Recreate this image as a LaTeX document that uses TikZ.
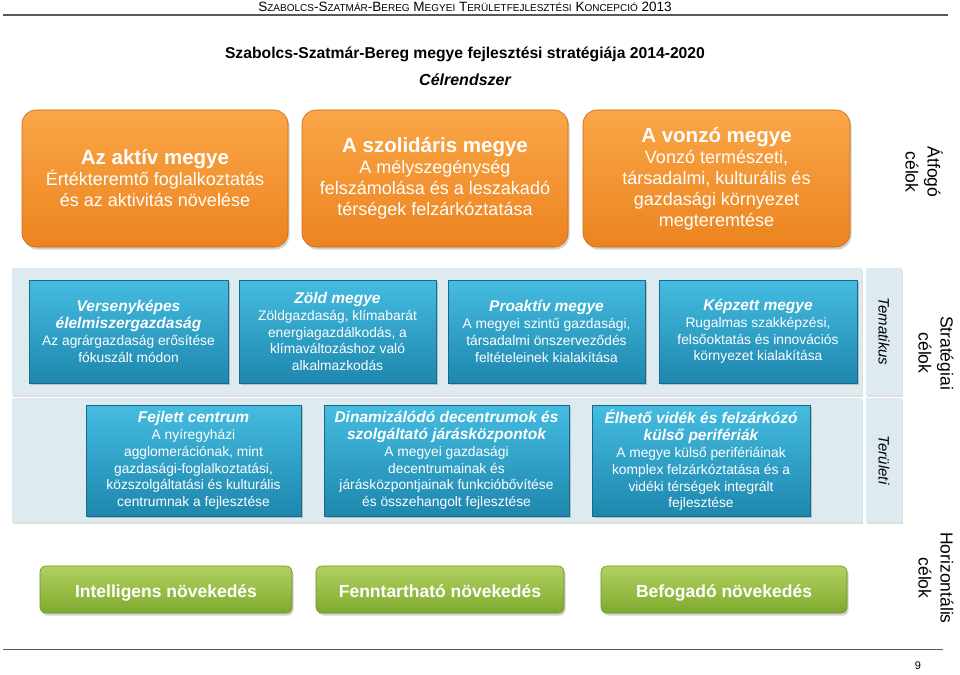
\documentclass[tikz,border=0pt]{standalone}
\usepackage{fontspec}
\setmainfont{Liberation Sans}
\usetikzlibrary{shadows}
\definecolor{orT}{HTML}{FAA647}
\definecolor{orB}{HTML}{EC8420}
\definecolor{orD}{HTML}{C96A12}
\definecolor{blT}{HTML}{45BCE0}
\definecolor{blB}{HTML}{1E87AE}
\definecolor{blD}{HTML}{17698A}
\definecolor{band}{HTML}{DDEBF1}
\definecolor{grT}{HTML}{B1D160}
\definecolor{grB}{HTML}{7FAA2E}
\definecolor{grD}{HTML}{6A8F25}
\newcommand{\sm}{\fontsize{10}{12}\selectfont}
\newcommand{\fs}[2]{\fontsize{#1}{#2}\selectfont}
\newcommand{\bt}{\fs{15.5}{17.5}\bfseries\itshape}
\newcommand{\nt}{\fs{13.8}{16.8}\mdseries\upshape}
\begin{document}
\begin{tikzpicture}[x=1pt,y=-1pt,
  orbox/.style={rounded corners=14pt, top color=orT, bottom color=orB, draw=orD, line width=0.6pt,
    drop shadow={opacity=0.35, shadow xshift=1.5pt, shadow yshift=-2.5pt},
    text=white, align=center, inner sep=0pt, font=\fs{18}{21}},
  blbox/.style={top color=blT, bottom color=blB, draw=blD, line width=0.6pt,
    drop shadow={opacity=0.4, shadow xshift=2pt, shadow yshift=-2pt},
    text=white, align=center, inner sep=0pt, font=\fs{13.8}{16.8}},
  grbox/.style={rounded corners=6pt, top color=grT, bottom color=grB, draw=grD, line width=0.6pt,
    drop shadow={opacity=0.35, shadow xshift=1.5pt, shadow yshift=-2.5pt},
    text=white, align=center, inner sep=0pt, font=\fs{17.5}{21}\bfseries,
    text height=17pt, text depth=2pt},
  bandbox/.style={fill=band, draw=none,
    drop shadow={opacity=0.25, shadow xshift=1pt, shadow yshift=-1.5pt}},
  sidelbl/.style={rotate=-90, align=center, font=\fs{17.5}{22}, inner sep=0pt},
  tablbl/.style={rotate=-90, font=\fs{15}{17}\itshape, inner sep=0pt}
]
\useasboundingbox (0,0) rectangle (960,674);
\fill[white] (0,0) rectangle (960,674);

% header
\node (hdr) at (465,7) {\fs{13.5}{15}S{\sm ZABOLCS}-S{\sm ZATMÁR}-B{\sm EREG} M{\sm EGYEI} T{\sm ERÜLETFEJLESZTÉSI} K{\sm ONCEPCIÓ} 2013};
\coordinate (hl1) at (3,15);
\coordinate (hl2) at (948,15);
\draw[gray!70!black, line width=1.4pt] (hl1) -- (hl2);

% titles
\node (title) at (465,54) {\fs{15.7}{19}\bfseries Szabolcs-Szatmár-Bereg megye fejlesztési stratégiája 2014-2020};
\node (sub) at (465,80) {\fs{16}{19}\bfseries\itshape Célrendszer};

% orange
\node[orbox, minimum width=266pt, minimum height=137pt] (o1) at (155,178.5)
  {\fs{20.5}{22}\bfseries Az aktív megye\\\fs{18}{21}\mdseries Értékteremtő foglalkoztatás\\és az aktivitás növelése};
\node[orbox, minimum width=266pt, minimum height=137pt] (o2) at (435,178.5)
  {\fs{20.5}{22}\bfseries A szolidáris megye\\\fs{18}{21}\mdseries A mélyszegénység\\felszámolása és a leszakadó\\térségek felzárkóztatása};
\node[orbox, minimum width=267pt, minimum height=137pt] (o3) at (716.5,178.5)
  {\fs{20.5}{22}\bfseries A vonzó megye\\\fs{18}{21}\mdseries Vonzó természeti,\\társadalmi, kulturális és\\gazdasági környezet\\megteremtése};
\node[sidelbl] (atf) at (924,172) {Átfogó\\célok};

% bands
\node[bandbox, minimum width=850pt, minimum height=127pt, inner sep=0pt] (b1) at (437,331.5) {};
\node[bandbox, minimum width=36pt, minimum height=127pt, inner sep=0pt] (t1) at (884,331.5) {};
\node[bandbox, minimum width=850pt, minimum height=124pt, inner sep=0pt] (b2) at (437,460) {};
\node[bandbox, minimum width=36pt, minimum height=124pt, inner sep=0pt] (t2) at (884,460) {};
\node[tablbl] (tem) at (t1) {Tematikus};
\node[tablbl] (ter) at (t2) {Területi};
\node[sidelbl] (str) at (936,353) {Stratégiai\\célok};

% blue row 1
\node[blbox, minimum width=199pt, minimum height=103pt] (s1) at (128.5,331.5)
  {\bt Versenyképes\\\bt élelmiszergazdaság\\\nt Az agrárgazdaság erősítése\\\nt fókuszált módon};
\node[blbox, minimum width=197pt, minimum height=103pt] (s2) at (337.5,331.5)
  {\bt Zöld megye\\\nt Zöldgazdaság, klímabarát\\energiagazdálkodás, a\\klímaváltozáshoz való\\alkalmazkodás};
\node[blbox, minimum width=197pt, minimum height=103pt] (s3) at (546.5,331.5)
  {\bt Proaktív megye\\\nt A megyei szintű gazdasági,\\társadalmi önszerveződés\\feltételeinek kialakítása};
\node[blbox, minimum width=198pt, minimum height=103pt] (s4) at (758,331.5)
  {\bt Képzett megye\\\nt Rugalmas szakképzési,\\felsőoktatás és innovációs\\környezet kialakítása};

% blue row 2
\node[blbox, minimum width=215pt, minimum height=111pt] (r1) at (193.5,460.5)
  {\bt Fejlett centrum\\\nt A nyíregyházi\\agglomerációnak, mint\\gazdasági-foglalkoztatási,\\közszolgáltatási és kulturális\\centrumnak a fejlesztése};
\node[blbox, minimum width=245pt, minimum height=111pt] (r2) at (446.5,460.5)
  {\bt Dinamizálódó decentrumok és\\\bt szolgáltató járásközpontok\\\nt A megyei gazdasági\\decentrumainak és\\járásközpontjainak funkcióbővítése\\és összehangolt fejlesztése};
\node[blbox, minimum width=218pt, minimum height=111pt] (r3) at (701,460.5)
  {\bt Élhető vidék és felzárkózó\\\bt külső perifériák\\\nt A megye külső perifériáinak\\komplex felzárkóztatása és a\\vidéki térségek integrált\\fejlesztése};

% green
\node[grbox, minimum width=252pt, minimum height=47pt] (g1) at (166,589.5) {Intelligens növekedés};
\node[grbox, minimum width=248pt, minimum height=47pt] (g2) at (440,589.5) {Fenntartható növekedés};
\node[grbox, minimum width=246pt, minimum height=47pt] (g3) at (724,589.5) {Befogadó növekedés};
\node[sidelbl] (hor) at (936,578) {Horizontális\\célok};

% footer
\coordinate (fl1) at (3,649);
\coordinate (fl2) at (943,649);
\draw[gray!70!black, line width=1pt] (fl1) -- (fl2);
\node (pg) at (918,666) {\fs{11}{13}9};
\end{tikzpicture}
\end{document}
